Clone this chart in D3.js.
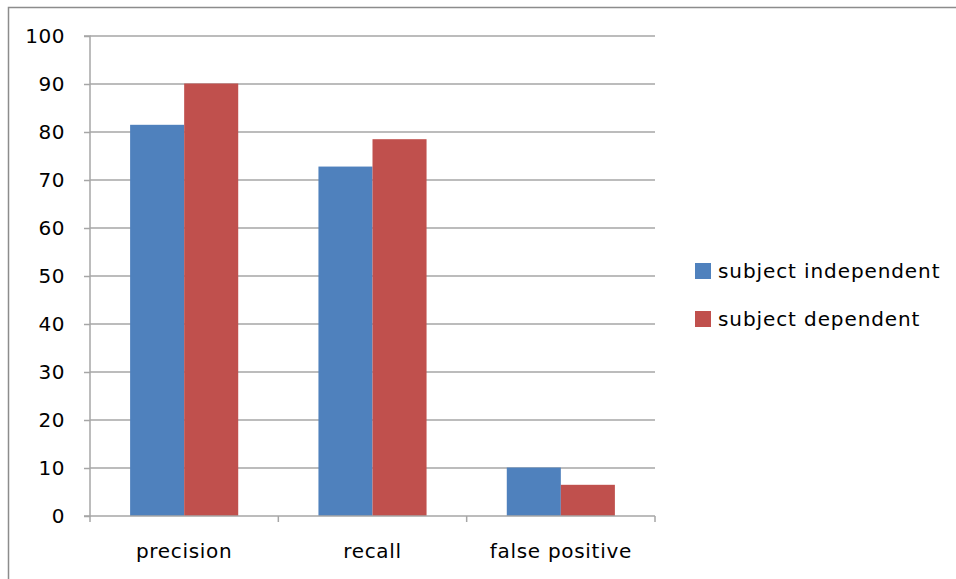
<!DOCTYPE html>
<html><head><meta charset="utf-8">
<script src="https://cdn.jsdelivr.net/npm/d3@7"></script>
<style>body{margin:0;background:#fff}svg{display:block}text{font-family:"DejaVu Sans",Verdana,sans-serif;fill:#000}</style>
</head><body><svg id="c" width="956" height="579"></svg>
<script>
const categories = ["precision", "recall", "false positive"];
const seriesNames = ["subject independent", "subject dependent"];
const independentValues = [81.5, 72.8, 10.1];
const dependentValues = [90.1, 78.5, 6.5];
const yTicks = [0, 10, 20, 30, 40, 50, 60, 70, 80, 90, 100];
const colors = ["#4f81bd", "#c0504d"];

(function(){
const svg = d3.select("#c");
svg.append("path").attr("d", "M8.5,579 L8.5,7.5 L956,7.5").attr("fill","none").attr("stroke","#8c8c8c").attr("stroke-width",1.5);

const pL = 90, pR = 655, pT = 36, pB = 516;
const x0 = d3.scaleBand().domain(categories).range([pL, pR]).padding(0);
const x1 = d3.scaleBand().domain(seriesNames).range([x0.bandwidth()*0.213, x0.bandwidth()*0.787]).padding(0);
const y = d3.scaleLinear().domain([0, 100]).range([pB, pT]);

svg.append("g").selectAll("line").data(yTicks.filter(d=>d>0)).join("line")
  .attr("x1", pL).attr("x2", pR).attr("y1", d=>y(d)).attr("y2", d=>y(d))
  .attr("stroke", "#a6a6a6").attr("stroke-width", 1.5);

const data = categories.map((c,i)=>({cat:c, vals:[independentValues[i], dependentValues[i]]}));
svg.append("g").selectAll("g").data(data).join("g")
  .attr("transform", d=>`translate(${x0(d.cat)},0)`)
  .selectAll("rect").data(d=>d.vals.map((v,j)=>({s:seriesNames[j], v, j}))).join("rect")
  .attr("x", d=>x1(d.s)).attr("width", x1.bandwidth())
  .attr("y", d=>y(d.v)).attr("height", d=>y(0)-y(d.v))
  .attr("fill", d=>colors[d.j]);

const yAxis = d3.axisLeft(y).tickValues(yTicks).tickSize(6).tickPadding(19);
const gy = svg.append("g").attr("transform", `translate(${pL},0)`).call(yAxis);
gy.select(".domain").attr("stroke","#a6a6a6").attr("stroke-width",1.5).attr("d", `M-6,${pT}H0V${pB}H-6`);
gy.selectAll(".tick line").attr("stroke","#a6a6a6").attr("stroke-width",1.5);
gy.selectAll(".tick text").style("font-size","20px").style("letter-spacing","0.5px").style("font-family","'DejaVu Sans',Verdana,sans-serif").attr("fill","#000");

const xAxis = d3.axisBottom(x0).tickSize(0).tickPadding(28);
const gx = svg.append("g").attr("transform", `translate(0,${pB})`).call(xAxis);
gx.select(".domain").attr("stroke","#a6a6a6").attr("stroke-width",1.5).attr("d", `M${pL},0H${pR}`);
gx.selectAll(".tick text").style("font-size","20px").style("letter-spacing","0.7px").style("font-family","'DejaVu Sans',Verdana,sans-serif").attr("fill","#000");
gx.append("g").selectAll("line").data([pL, ...categories.map(c=>x0(c)+x0.bandwidth())]).join("line")
  .attr("x1", d=>d).attr("x2", d=>d).attr("y1", 0).attr("y2", 6)
  .attr("stroke","#a6a6a6").attr("stroke-width",1.5);

const lg = svg.append("g").attr("transform","translate(695,271)");
const item = lg.selectAll("g").data(seriesNames).join("g").attr("transform",(d,i)=>`translate(0,${i*48})`);
item.append("rect").attr("x",0).attr("y",-8).attr("width",16).attr("height",16).attr("fill",(d,i)=>colors[i]);
item.append("text").attr("x",23).attr("y",0).attr("dy","0.35em").style("font-size","20px").style("letter-spacing","0.9px").text(d=>d);
})();
</script></body></html>
